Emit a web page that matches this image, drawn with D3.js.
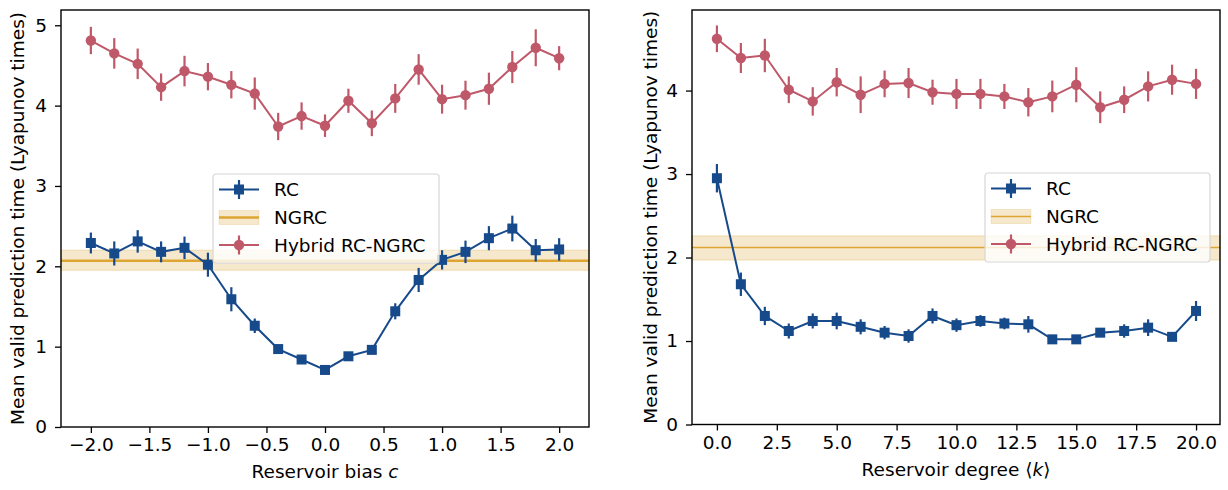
<!DOCTYPE html>
<html>
<head>
<meta charset="utf-8">
<script src="https://cdn.jsdelivr.net/npm/d3@7"></script>
<style>
  body { margin: 0; background: #fff; }
  svg { font-family: "DejaVu Sans", sans-serif; }
</style>
</head>
<body>
<div id="chart"></div>
<script>
// ---- data ----
var biasX = [-2.0, -1.8, -1.6, -1.4, -1.2, -1.0, -0.8, -0.6, -0.4, -0.2, 0.0, 0.2, 0.4, 0.6, 0.8, 1.0, 1.2, 1.4, 1.6, 1.8, 2.0];
var biasRC = [2.29, 2.16, 2.31, 2.18, 2.23, 2.02, 1.59, 1.26, 0.97, 0.84, 0.71, 0.88, 0.96, 1.44, 1.83, 2.08, 2.18, 2.35, 2.47, 2.20, 2.21];
var biasRCErr = [0.13, 0.15, 0.14, 0.13, 0.14, 0.15, 0.15, 0.09, 0.04, 0.05, 0.04, 0.05, 0.04, 0.10, 0.15, 0.12, 0.14, 0.15, 0.16, 0.14, 0.14];
var biasHyb = [4.81, 4.65, 4.52, 4.23, 4.43, 4.36, 4.26, 4.15, 3.74, 3.87, 3.75, 4.06, 3.78, 4.09, 4.45, 4.08, 4.13, 4.21, 4.48, 4.72, 4.59];
var biasHybErr = [0.17, 0.19, 0.19, 0.17, 0.19, 0.17, 0.17, 0.20, 0.17, 0.17, 0.14, 0.15, 0.16, 0.18, 0.19, 0.18, 0.18, 0.20, 0.20, 0.23, 0.15];
var biasNGRC = [2.07, 1.95, 2.20]; // mean, low, high

var degX = [0, 1, 2, 3, 4, 5, 6, 7, 8, 9, 10, 11, 12, 13, 14, 15, 16, 17, 18, 19, 20];
var degRC = [2.95, 1.68, 1.30, 1.12, 1.24, 1.24, 1.17, 1.10, 1.06, 1.30, 1.19, 1.24, 1.21, 1.20, 1.02, 1.02, 1.10, 1.12, 1.16, 1.05, 1.36];
var degRCErr = [0.17, 0.14, 0.11, 0.09, 0.09, 0.10, 0.09, 0.08, 0.08, 0.09, 0.08, 0.07, 0.07, 0.10, 0.04, 0.05, 0.05, 0.08, 0.10, 0.04, 0.12];
var degHyb = [4.62, 4.39, 4.42, 4.01, 3.87, 4.10, 3.95, 4.08, 4.09, 3.98, 3.96, 3.96, 3.93, 3.86, 3.93, 4.07, 3.80, 3.89, 4.05, 4.13, 4.08];
var degHybErr = [0.16, 0.18, 0.20, 0.16, 0.17, 0.17, 0.22, 0.16, 0.18, 0.15, 0.18, 0.18, 0.15, 0.17, 0.19, 0.21, 0.19, 0.16, 0.18, 0.18, 0.18];
var degNGRC = [2.12, 1.97, 2.26];

var leftTicksX = [-2.0, -1.5, -1.0, -0.5, 0.0, 0.5, 1.0, 1.5, 2.0];
var leftTicksY = [0, 1, 2, 3, 4, 5];
var rightTicksX = [0, 2.5, 5, 7.5, 10, 12.5, 15, 17.5, 20];
var rightTicksY = [0, 1, 2, 3, 4];
var seriesNames = ["RC", "NGRC", "Hybrid RC-NGRC"];

var blue = "#174a8b", red = "#bf5869", gold = "#dda532";
var fs = "18.5px";

var svg = d3.select("#chart").append("svg")
    .attr("width", 1228)
    .attr("height", 490);

function zip(xs, ys, es) {
    return xs.map(function(x, i) { return {x: x, y: ys[i], e: es[i]}; });
}

function drawPanel(opt) {
    var x = d3.scaleLinear().domain(opt.xDomain).range([opt.left, opt.right]);
    var y = d3.scaleLinear().domain(opt.yDomain).range([opt.bottom, opt.top]);
    var g = svg.append("g");

    // NGRC band + line
    g.append("rect")
        .attr("x", opt.left).attr("width", opt.right - opt.left)
        .attr("y", y(opt.ngrc[2])).attr("height", y(opt.ngrc[1]) - y(opt.ngrc[2]))
        .attr("fill", gold).attr("fill-opacity", 0.25)
        .attr("stroke", gold).attr("stroke-opacity", 0.2).attr("stroke-width", 1.5);
    g.append("line")
        .attr("x1", opt.left).attr("x2", opt.right)
        .attr("y1", y(opt.ngrc[0])).attr("y2", y(opt.ngrc[0]))
        .attr("stroke", gold).attr("stroke-width", opt.ngrcWidth);

    var line = d3.line().x(function(d) { return x(d.x); }).y(function(d) { return y(d.y); });

    function series(data, color, shape) {
        var s = g.append("g");
        s.append("path").datum(data)
            .attr("d", line)
            .attr("fill", "none").attr("stroke", color).attr("stroke-width", 2);
        s.selectAll(".err").data(data).enter().append("line")
            .attr("x1", function(d) { return x(d.x); })
            .attr("x2", function(d) { return x(d.x); })
            .attr("y1", function(d) { return y(d.y - d.e); })
            .attr("y2", function(d) { return y(d.y + d.e); })
            .attr("stroke", color).attr("stroke-width", 2.2);
        if (shape == "square") {
            s.selectAll(".mk").data(data).enter().append("rect")
                .attr("x", function(d) { return x(d.x) - 5; })
                .attr("y", function(d) { return y(d.y) - 5; })
                .attr("width", 10).attr("height", 10)
                .attr("fill", color);
        } else {
            s.selectAll(".mk").data(data).enter().append("circle")
                .attr("cx", function(d) { return x(d.x); })
                .attr("cy", function(d) { return y(d.y); })
                .attr("r", 5.2)
                .attr("fill", color);
        }
    }
    series(opt.rc, blue, "square");
    series(opt.hyb, red, "circle");

    // spines
    g.append("rect")
        .attr("x", opt.left).attr("y", opt.top)
        .attr("width", opt.right - opt.left).attr("height", opt.bottom - opt.top)
        .attr("fill", "none").attr("stroke", "#000").attr("stroke-width", 1.4);

    var xAxis = g.append("g")
        .attr("transform", "translate(0," + opt.bottom + ")")
        .call(d3.axisBottom(x).tickValues(opt.ticksX).tickFormat(d3.format(".1f")).tickSize(6).tickPadding(5));
    var yAxis = g.append("g")
        .attr("transform", "translate(" + opt.left + ",0)")
        .call(d3.axisLeft(y).tickValues(opt.ticksY).tickFormat(d3.format("d")).tickSize(6).tickPadding(8));
    [xAxis, yAxis].forEach(function(a) {
        a.select(".domain").remove();
        a.selectAll("line").attr("stroke", "#000").attr("stroke-width", 1.3);
        a.selectAll("text").attr("fill", "#000").style("font-size", fs)
            .style("font-family", "DejaVu Sans");
    });

    // axis labels
    var xl = g.append("text")
        .attr("x", (opt.left + opt.right) / 2).attr("y", opt.xLabelY)
        .attr("text-anchor", "middle").style("font-size", fs);
    xl.append("tspan").text(opt.xLabel[0]);
    xl.append("tspan").style("font-style", "italic").text(opt.xLabel[1]);
    if (opt.xLabel[2]) xl.append("tspan").text(opt.xLabel[2]);

    g.append("text")
        .attr("transform", "translate(" + opt.yLabelX + "," + (opt.top + opt.bottom) / 2 + ") rotate(-90)")
        .attr("text-anchor", "middle").style("font-size", fs)
        .text("Mean valid prediction time (Lyapunov times)");

    // legend
    var lg = g.append("g").attr("transform", "translate(" + opt.legend[0] + "," + opt.legend[1] + ")");
    lg.append("rect")
        .attr("width", opt.legend[2]).attr("height", 89).attr("rx", 3)
        .attr("fill", "#fff").attr("fill-opacity", 0.8)
        .attr("stroke", "#d6d6d6").attr("stroke-width", 1.2);
    var rowY = [15.5, 43.5, 71];
    var hx0 = 6, hx1 = 46, hmid = 26;
    // RC entry
    lg.append("line").attr("x1", hx0).attr("x2", hx1).attr("y1", rowY[0]).attr("y2", rowY[0])
        .attr("stroke", blue).attr("stroke-width", 2);
    lg.append("line").attr("x1", hmid).attr("x2", hmid).attr("y1", rowY[0] - 9.5).attr("y2", rowY[0] + 9.5)
        .attr("stroke", blue).attr("stroke-width", 2.2);
    lg.append("rect").attr("x", hmid - 5).attr("y", rowY[0] - 5).attr("width", 10).attr("height", 10)
        .attr("fill", blue);
    // NGRC entry
    lg.append("rect").attr("x", hx0).attr("y", rowY[1] - 7).attr("width", hx1 - hx0).attr("height", 14)
        .attr("fill", gold).attr("fill-opacity", 0.25)
        .attr("stroke", gold).attr("stroke-opacity", 0.2);
    lg.append("line").attr("x1", hx0).attr("x2", hx1).attr("y1", rowY[1]).attr("y2", rowY[1])
        .attr("stroke", gold).attr("stroke-width", opt.ngrcWidth);
    // Hybrid entry
    lg.append("line").attr("x1", hx0).attr("x2", hx1).attr("y1", rowY[2]).attr("y2", rowY[2])
        .attr("stroke", red).attr("stroke-width", 2);
    lg.append("line").attr("x1", hmid).attr("x2", hmid).attr("y1", rowY[2] - 9.5).attr("y2", rowY[2] + 9.5)
        .attr("stroke", red).attr("stroke-width", 2.2);
    lg.append("circle").attr("cx", hmid).attr("cy", rowY[2]).attr("r", 5.2).attr("fill", red);

    lg.selectAll(".lt").data(seriesNames).enter().append("text")
        .attr("x", 61)
        .attr("y", function(d, i) { return rowY[i]; })
        .attr("dy", "0.36em")
        .style("font-size", fs)
        .text(function(d) { return d; });
}

drawPanel({
    left: 61, right: 589, top: 10, bottom: 427,
    xDomain: [-2.255, 2.255], yDomain: [0, 5.19],
    ticksX: leftTicksX, ticksY: leftTicksY,
    rc: zip(biasX, biasRC, biasRCErr), hyb: zip(biasX, biasHyb, biasHybErr), ngrc: biasNGRC,
    ngrcWidth: 2.6,
    xLabel: ["Reservoir bias ", "c"], xLabelY: 478, yLabelX: 24,
    legend: [213, 174, 226]
});

drawPanel({
    left: 692, right: 1220, top: 10, bottom: 424.5,
    xDomain: [-1.04, 21.0], yDomain: [0, 4.965],
    ticksX: rightTicksX, ticksY: rightTicksY,
    rc: zip(degX, degRC, degRCErr), hyb: zip(degX, degHyb, degHybErr), ngrc: degNGRC,
    ngrcWidth: 1.6,
    xLabel: ["Reservoir degree \u27E8", "k", "\u27E9"], xLabelY: 475.5, yLabelX: 657,
    legend: [985, 173, 225]
});
</script>
</body>
</html>
